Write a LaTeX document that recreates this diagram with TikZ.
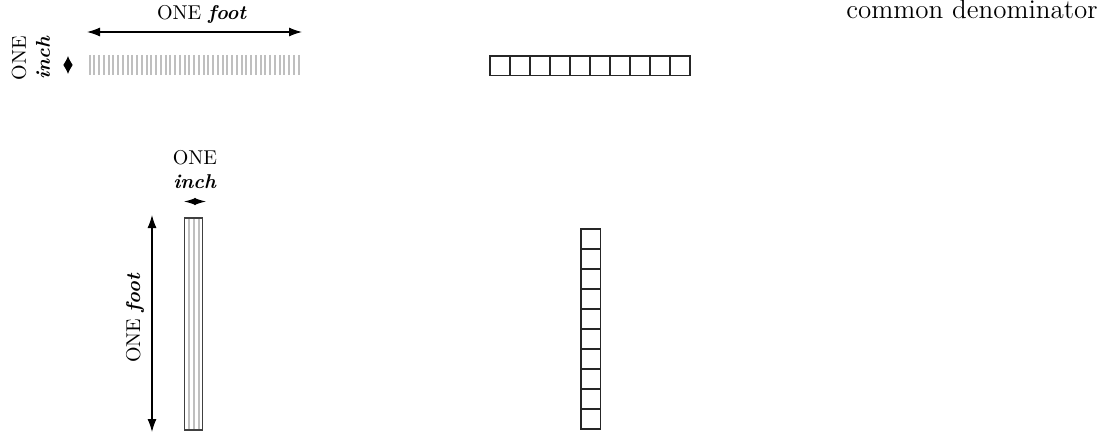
\documentclass[tikz,border=0pt]{standalone}
\usetikzlibrary{arrows.meta}
\begin{document}
\begin{tikzpicture}[x=0.5pt,y=-0.5pt,
  lbl/.style={align=center, inner sep=0pt},
  stripe/.style={draw=black!25, line width=1pt},
  sq/.style={draw=black!85, line width=0.7pt},
  barframe/.style={draw=black!75, line width=0.6pt},
  dim/.style={line width=0.55pt, {Latex[length=6.5pt,width=4.5pt]}-{Latex[length=6.5pt,width=4.5pt]}},
  vdia/.style={line width=0.5pt, {Latex[length=4.5pt,width=4.8pt]}-{Latex[length=4.5pt,width=4.8pt]}},
  hdia/.style={line width=0.5pt, {Latex[length=5.8pt,width=3.6pt]}-{Latex[length=5.8pt,width=3.6pt]}}]
\useasboundingbox (0,0) rectangle (1118,433);
% common denominator
\node[lbl, anchor=base east, font=\fontsize{13.5}{16}\selectfont] (cd) at (1098,19) {common denominator};
% ---- top-left: horizontal foot bar
\coordinate (fa) at (87,32);
\coordinate (fb) at (302,32);
\draw[dim] (fa) -- (fb);
\node[lbl] (footlbl) at (202,14) {ONE \textbf{\textit{foot}}};
\foreach \i in {0,...,44} \draw[stripe] ({89.5+\i*4.75},55) -- ++(0,20);
\coordinate (ia) at (68,56);
\coordinate (ib) at (68,74);
\draw[vdia] (ia) -- (ib);
\node[lbl, rotate=90] (inchlbl) at (31,58) {ONE\\\textbf{\textit{inch}}};
% ---- top-middle: row of squares
\foreach \i in {0,...,9} \draw[sq] ({490+\i*20},56) rectangle ++(20,19.5);
% ---- bottom-left: vertical foot bar
\draw[barframe] (184.5,218) rectangle (202.5,430);
\foreach \xx in {188.5,193.5,198.5} \draw[stripe] (\xx,219) -- (\xx,429);
\coordinate (va) at (152,215);
\coordinate (vb) at (152,432);
\draw[dim] (va) -- (vb);
\node[lbl, rotate=90] (vfootlbl) at (135,318) {ONE \textbf{\textit{foot}}};
\coordinate (ha) at (184,201.5);
\coordinate (hb) at (206,201.5);
\draw[hdia] (ha) -- (hb);
\node[lbl] (hinchlbl) at (195,170) {ONE\\\textbf{\textit{inch}}};
% ---- bottom-middle: column of squares
\foreach \i in {0,...,9} \draw[sq] (581,{229+\i*20}) rectangle ++(19.5,20);
\end{tikzpicture}
\end{document}
